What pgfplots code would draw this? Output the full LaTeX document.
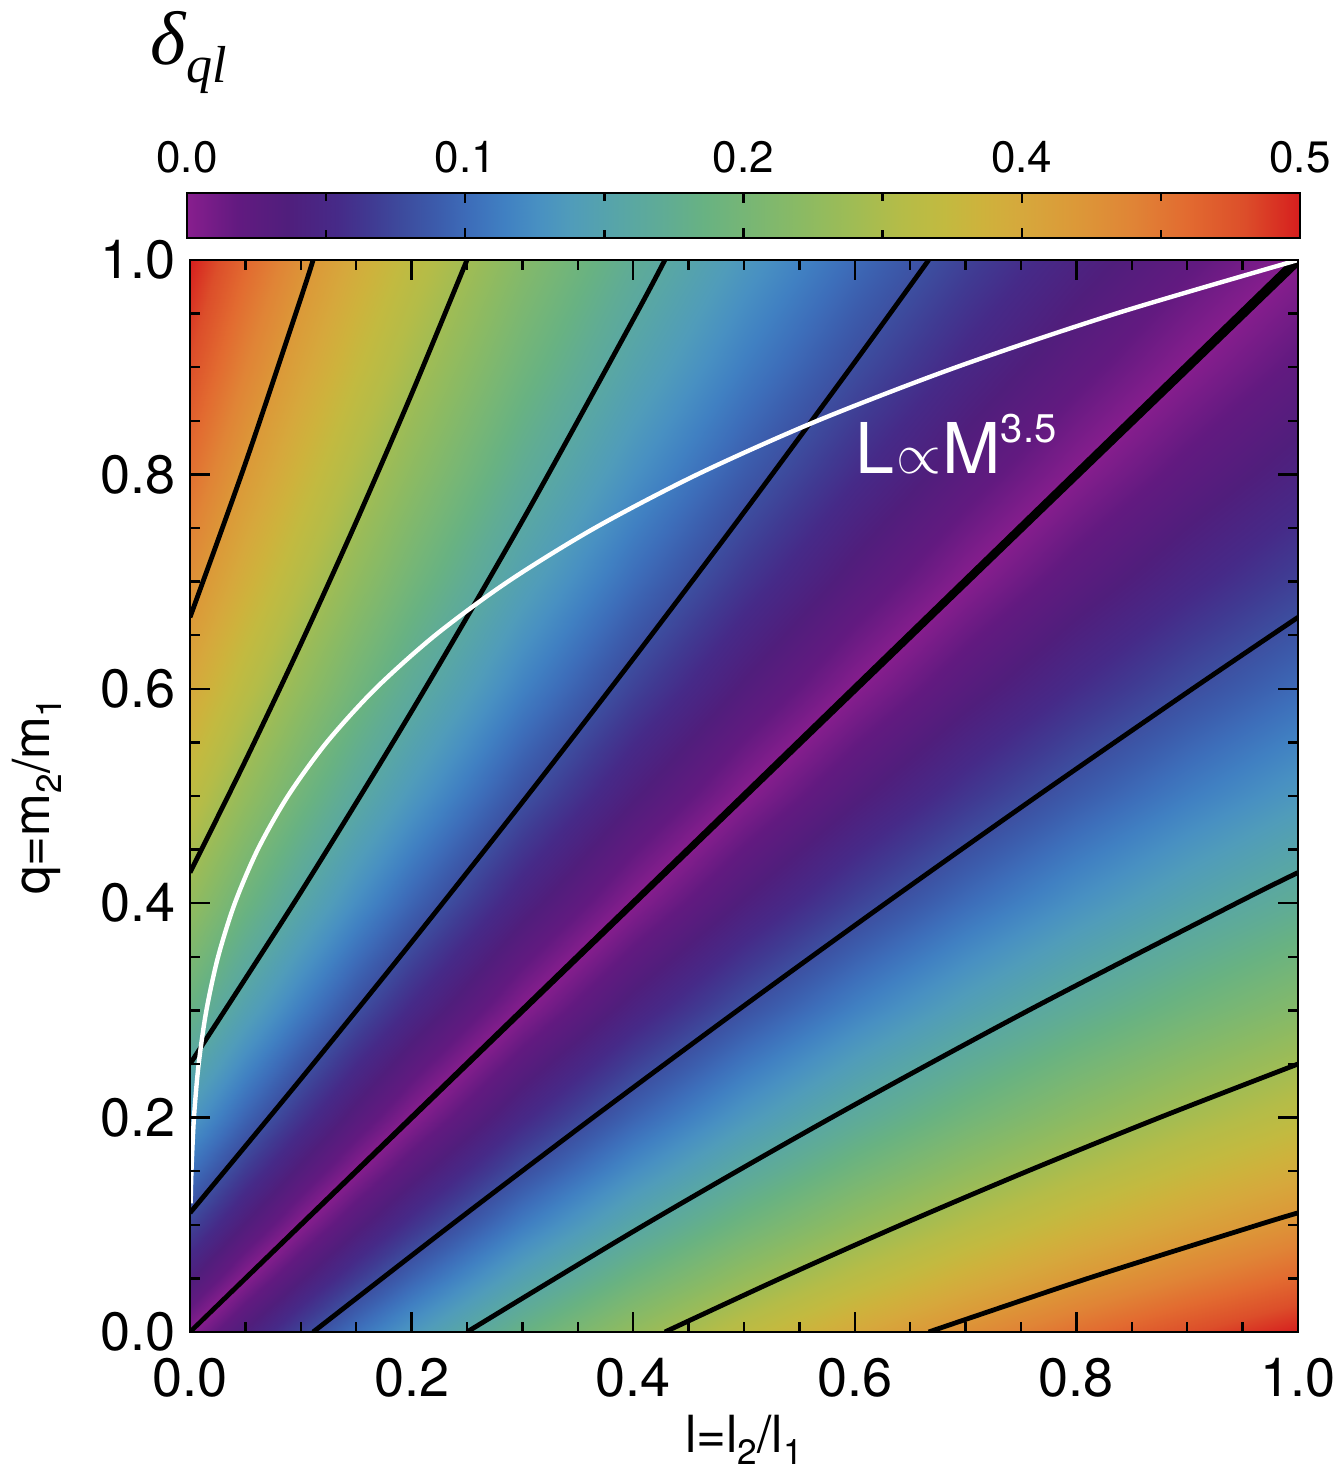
\documentclass[border=0pt]{standalone}
\usepackage{fontspec}
\setmainfont{TeX Gyre Heros}
\newfontfamily\titleserif{Liberation Serif}
\usepackage{pgfplots}
\usepackage{pgfplotstable}
\pgfplotsset{compat=1.18}
\pgfplotsset{/pgf/number format/assume math mode=true}

\newcommand{\sub}[1]{\raisebox{-3pt}{\fontsize{8.8}{10}\selectfont #1}}

% Colour scale for the signed offset d = q/(1+q) - l/(1+l).
% It is mirrored about zero, so the colour shows delta_ql = |d|.
\pgfplotsset{colormap={deltasym}{
  rgb255(0pt)=(214,30,30)    rgb255(5pt)=(220,78,42)    rgb255(10pt)=(226,106,48)
  rgb255(15pt)=(224,132,54)  rgb255(20pt)=(220,152,56)  rgb255(25pt)=(214,168,60)
  rgb255(28.5pt)=(206,178,60) rgb255(32pt)=(194,186,64) rgb255(36pt)=(180,188,72)
  rgb255(40pt)=(160,188,84)  rgb255(45pt)=(138,186,100) rgb255(50pt)=(118,182,118)
  rgb255(53.5pt)=(104,178,130) rgb255(57pt)=(96,172,148) rgb255(61pt)=(88,166,166)
  rgb255(65.5pt)=(80,156,186) rgb255(68.5pt)=(72,144,194) rgb255(71.5pt)=(64,128,194)
  rgb255(74.5pt)=(61,110,186) rgb255(77.5pt)=(60,92,172) rgb255(80.5pt)=(61,76,158)
  rgb255(83.5pt)=(64,58,146) rgb255(86.5pt)=(70,42,136) rgb255(91pt)=(80,30,124)
  rgb255(95.5pt)=(98,26,128) rgb255(100pt)=(136,30,142)
  rgb255(104.5pt)=(98,26,128) rgb255(109pt)=(80,30,124) rgb255(113.5pt)=(70,42,136)
  rgb255(116.5pt)=(64,58,146) rgb255(119.5pt)=(61,76,158) rgb255(122.5pt)=(60,92,172)
  rgb255(125.5pt)=(61,110,186) rgb255(128.5pt)=(64,128,194) rgb255(131.5pt)=(72,144,194)
  rgb255(134.5pt)=(80,156,186) rgb255(139pt)=(88,166,166) rgb255(143pt)=(96,172,148)
  rgb255(146.5pt)=(104,178,130) rgb255(150pt)=(118,182,118) rgb255(155pt)=(138,186,100)
  rgb255(160pt)=(160,188,84) rgb255(164pt)=(180,188,72) rgb255(168pt)=(194,186,64)
  rgb255(171.5pt)=(206,178,60) rgb255(175pt)=(214,168,60) rgb255(180pt)=(220,152,56)
  rgb255(185pt)=(224,132,54) rgb255(190pt)=(226,106,48) rgb255(195pt)=(220,78,42)
  rgb255(200pt)=(214,30,30)
}}

% signed offset on a (l, q) grid, l varying fastest
\pgfplotstableread{
l q d
0 0 0
0.05 0 -0.04762
0.1 0 -0.09091
0.15 0 -0.13043
0.2 0 -0.16667
0.3 0 -0.23077
0.4 0 -0.28571
0.5 0 -0.33333
0.6 0 -0.375
0.7 0 -0.41176
0.8 0 -0.44444
0.9 0 -0.47368
1 0 -0.5
0 0.05 0.04762
0.05 0.05 0
0.1 0.05 -0.04329
0.15 0.05 -0.08281
0.2 0.05 -0.11905
0.3 0.05 -0.18315
0.4 0.05 -0.23809
0.5 0.05 -0.28571
0.6 0.05 -0.32738
0.7 0.05 -0.36414
0.8 0.05 -0.39682
0.9 0.05 -0.42606
1 0.05 -0.45238
0 0.1 0.09091
0.05 0.1 0.04329
0.1 0.1 0
0.15 0.1 -0.03952
0.2 0.1 -0.07576
0.3 0.1 -0.13986
0.4 0.1 -0.1948
0.5 0.1 -0.24242
0.6 0.1 -0.28409
0.7 0.1 -0.32085
0.8 0.1 -0.35353
0.9 0.1 -0.38277
1 0.1 -0.40909
0 0.15 0.13043
0.05 0.15 0.08281
0.1 0.15 0.03952
0.15 0.15 0
0.2 0.15 -0.03624
0.3 0.15 -0.10034
0.4 0.15 -0.15528
0.5 0.15 -0.2029
0.6 0.15 -0.24457
0.7 0.15 -0.28133
0.8 0.15 -0.31401
0.9 0.15 -0.34325
1 0.15 -0.36957
0 0.2 0.16667
0.05 0.2 0.11905
0.1 0.2 0.07576
0.15 0.2 0.03624
0.2 0.2 0
0.3 0.2 -0.0641
0.4 0.2 -0.11904
0.5 0.2 -0.16666
0.6 0.2 -0.20833
0.7 0.2 -0.24509
0.8 0.2 -0.27777
0.9 0.2 -0.30701
1 0.2 -0.33333
0 0.3 0.23077
0.05 0.3 0.18315
0.1 0.3 0.13986
0.15 0.3 0.10034
0.2 0.3 0.0641
0.3 0.3 0
0.4 0.3 -0.05494
0.5 0.3 -0.10256
0.6 0.3 -0.14423
0.7 0.3 -0.18099
0.8 0.3 -0.21367
0.9 0.3 -0.24291
1 0.3 -0.26923
0 0.4 0.28571
0.05 0.4 0.23809
0.1 0.4 0.1948
0.15 0.4 0.15528
0.2 0.4 0.11904
0.3 0.4 0.05494
0.4 0.4 0
0.5 0.4 -0.04762
0.6 0.4 -0.08929
0.7 0.4 -0.12605
0.8 0.4 -0.15873
0.9 0.4 -0.18797
1 0.4 -0.21429
0 0.5 0.33333
0.05 0.5 0.28571
0.1 0.5 0.24242
0.15 0.5 0.2029
0.2 0.5 0.16666
0.3 0.5 0.10256
0.4 0.5 0.04762
0.5 0.5 0
0.6 0.5 -0.04167
0.7 0.5 -0.07843
0.8 0.5 -0.11111
0.9 0.5 -0.14035
1 0.5 -0.16667
0 0.6 0.375
0.05 0.6 0.32738
0.1 0.6 0.28409
0.15 0.6 0.24457
0.2 0.6 0.20833
0.3 0.6 0.14423
0.4 0.6 0.08929
0.5 0.6 0.04167
0.6 0.6 0
0.7 0.6 -0.03676
0.8 0.6 -0.06944
0.9 0.6 -0.09868
1 0.6 -0.125
0 0.7 0.41176
0.05 0.7 0.36414
0.1 0.7 0.32085
0.15 0.7 0.28133
0.2 0.7 0.24509
0.3 0.7 0.18099
0.4 0.7 0.12605
0.5 0.7 0.07843
0.6 0.7 0.03676
0.7 0.7 0
0.8 0.7 -0.03268
0.9 0.7 -0.06192
1 0.7 -0.08824
0 0.8 0.44444
0.05 0.8 0.39682
0.1 0.8 0.35353
0.15 0.8 0.31401
0.2 0.8 0.27777
0.3 0.8 0.21367
0.4 0.8 0.15873
0.5 0.8 0.11111
0.6 0.8 0.06944
0.7 0.8 0.03268
0.8 0.8 0
0.9 0.8 -0.02924
1 0.8 -0.05556
0 0.9 0.47368
0.05 0.9 0.42606
0.1 0.9 0.38277
0.15 0.9 0.34325
0.2 0.9 0.30701
0.3 0.9 0.24291
0.4 0.9 0.18797
0.5 0.9 0.14035
0.6 0.9 0.09868
0.7 0.9 0.06192
0.8 0.9 0.02924
0.9 0.9 0
1 0.9 -0.02632
0 1 0.5
0.05 1 0.45238
0.1 1 0.40909
0.15 1 0.36957
0.2 1 0.33333
0.3 1 0.26923
0.4 1 0.21429
0.5 1 0.16667
0.6 1 0.125
0.7 1 0.08824
0.8 1 0.05556
0.9 1 0.02632
1 1 0
}\offsetgrid

% contours of delta_ql = 0.1, 0.2, 0.3, 0.4 above the diagonal (l, q)
\pgfplotstableread{
l q
0 0.1111
0.1 0.23596
0.2 0.36364
0.3 0.49425
0.4 0.62791
0.5 0.76471
0.6 0.90476
0.6667 1
}\contourA
\pgfplotstableread{
l q
0 0.25
0.1 0.41026
0.2 0.57895
0.3 0.75676
0.4 0.94444
0.42857 1
}\contourB
\pgfplotstableread{
l q
0 0.42857
0.05 0.53285
0.1 0.64179
0.15 0.75572
0.2 0.875
0.25 1
}\contourC
\pgfplotstableread{
l q
0 0.66667
0.05 0.81034
0.1 0.96429
0.11111 1
}\contourD

% mass-luminosity relation L ~ M^3.5, i.e. l = q^3.5
\pgfplotstableread{
l q
0.000598 0.12
0.001306 0.15
0.003578 0.2
0.007813 0.25
0.014789 0.3
0.025355 0.35
0.040477 0.4
0.06111 0.45
0.088388 0.5
0.123378 0.55
0.167304 0.6
0.221394 0.65
0.286985 0.7
0.365354 0.75
0.457947 0.8
0.56621 0.85
0.691613 0.9
0.835664 0.95
1 1
}\mlrel

\begin{document}
\begin{tikzpicture}
\useasboundingbox (0,0) rectangle (335.5pt,368.25pt);

% colour bar
\begin{axis}[
  at={(46.75pt,308.75pt)}, anchor=south west,
  width=278.25pt, height=11.25pt, scale only axis,
  xmin=0, xmax=0.5, ymin=0, ymax=1,
  colormap name=deltasym, point meta min=-0.5, point meta max=0.5,
  axis on top,
  xtick={0,0.125,0.25,0.375,0.5}, xticklabels={0.0,0.1,0.2,0.4,0.5},
  minor xtick={0.0625,0.1875,0.3125,0.4375},
  ytick=\empty,
  xtick pos=both, xticklabel pos=upper, tick align=inside,
  major tick length=2.6pt, minor tick length=2pt,
  every tick/.style={black, line width=0.6pt},
  axis line style={line width=0.6pt},
  xticklabel style={font=\fontsize{11}{13}\selectfont, yshift=1.3pt},
]
\addplot[surf, shader=interp, mesh/rows=2, mesh/cols=2, point meta=explicit]
  table[x=x, y=y, meta=d] {
x y d
0 0 0
0.5 0 0.5
0 1 0
0.5 1 0.5
};
\end{axis}

% main panel
\begin{axis}[
  at={(47.5pt,35.25pt)}, anchor=south west,
  width=277pt, height=268pt, scale only axis,
  xmin=0, xmax=1, ymin=0, ymax=1,
  colormap name=deltasym, point meta min=-0.5, point meta max=0.5,
  axis on top,
  xtick={0,0.2,0.4,0.6,0.8,1}, ytick={0,0.2,0.4,0.6,0.8,1},
  minor tick num=3,
  tick align=inside, xtick pos=both, ytick pos=both,
  major tick length=5pt, minor tick length=2.5pt,
  every tick/.style={black, line width=0.6pt},
  axis line style={line width=0.6pt},
  tick label style={font=\fontsize{13.5}{16}\selectfont,
    /pgf/number format/fixed, /pgf/number format/fixed zerofill,
    /pgf/number format/precision=1},
  xticklabel style={yshift=-3pt},
  label style={font=\fontsize{12.8}{15}\selectfont},
  xlabel={l=l\sub{2}/l\sub{1}},
  ylabel={q=m\sub{2}/m\sub{1}},
  xlabel style={at={(axis description cs:0.5,-0.1120)}, anchor=base},
  ylabel style={at={(axis description cs:-0.1264,0.5)}, anchor=base},
]
\addplot[surf, shader=interp, mesh/rows=13, mesh/cols=13, point meta=explicit]
  table[x=l, y=q, meta=d] {\offsetgrid};

% contours above the diagonal, and their mirror images below it
\addplot[black, line width=1.2pt, smooth, no marks] table[x=l, y=q] {\contourA};
\addplot[black, line width=1.2pt, smooth, no marks] table[x=q, y=l] {\contourA};
\addplot[black, line width=1.2pt, smooth, no marks] table[x=l, y=q] {\contourB};
\addplot[black, line width=1.2pt, smooth, no marks] table[x=q, y=l] {\contourB};
\addplot[black, line width=1.2pt, smooth, no marks] table[x=l, y=q] {\contourC};
\addplot[black, line width=1.2pt, smooth, no marks] table[x=q, y=l] {\contourC};
\addplot[black, line width=1.2pt, smooth, no marks] table[x=l, y=q] {\contourD};
\addplot[black, line width=1.2pt, smooth, no marks] table[x=q, y=l] {\contourD};

% zero contour along the diagonal, widening towards (1,1)
\addplot[fill=black, draw=none] coordinates
  {(-0.0015,0.0015) (0.9968,1.0032) (1.0032,0.9968) (0.0015,-0.0015)} --cycle;

\addplot[white, line width=1.1pt, smooth, no marks] table[x=l, y=q] {\mlrel};

\node[anchor=base west, inner sep=0pt, text=white,
      font=\fontsize{17.5}{21}\selectfont] at (axis cs:0.600,0.801)
  {L\kern0.4pt{\fontsize{14}{14}\selectfont$\propto$}\kern0.4pt M\raisebox{7.8pt}{\fontsize{10}{11}\selectfont 3.5}};
\end{axis}

\node[anchor=base west, inner sep=0pt] at (37.5pt,352pt)
  {\titleserif\itshape\fontsize{19}{22}\selectfont δ\raisebox{-4.5pt}{\fontsize{13}{15}\selectfont ql}};
\end{tikzpicture}
\end{document}
